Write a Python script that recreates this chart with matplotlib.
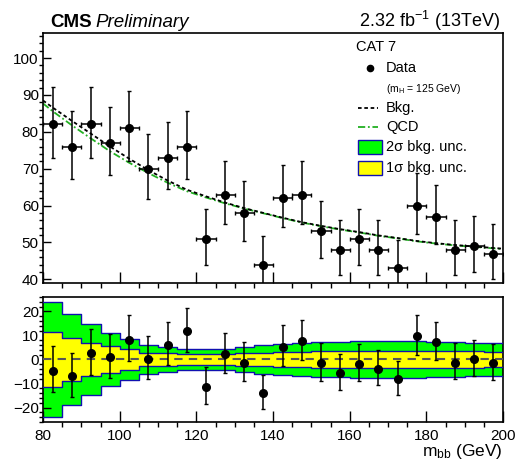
import numpy as np
import matplotlib
matplotlib.use("Agg")
import matplotlib.pyplot as plt
from matplotlib.patches import Rectangle
from matplotlib.lines import Line2D
from matplotlib.ticker import MultipleLocator

plt.rcParams['font.family'] = 'Liberation Sans'
plt.rcParams['mathtext.fontset'] = 'custom'
plt.rcParams['mathtext.rm'] = 'Liberation Sans'
plt.rcParams['mathtext.it'] = 'Liberation Sans:italic'
plt.rcParams['mathtext.bf'] = 'Liberation Sans:bold'

# m_bb bins (5 GeV wide) and observed events
bin_edges = [80, 85, 90, 95, 100, 105, 110, 115, 120, 125, 130, 135, 140,
             145, 150, 155, 160, 165, 170, 175, 180, 185, 190, 195, 200]
data = [82, 76, 82, 77, 81, 70, 73, 76, 51, 63, 58, 44,
        62, 63, 53, 48, 51, 48, 43, 60, 57, 48, 49, 47]

# fitted background and QCD shape, sampled along m_bb
curve_mass = [80, 82.5, 87.5, 92.5, 97.5, 102.5, 107.5, 112.5, 117.5, 122.5,
              127.5, 132.5, 137.5, 142.5, 147.5, 152.5, 157.5, 162.5, 167.5,
              172.5, 177.5, 182.5, 187.5, 192.5, 197.5, 200]
bkg = [88.5, 86.6, 83.0, 79.5, 76.0, 72.7, 69.6, 66.8, 64.3, 62.5, 60.8,
       59.3, 58.0, 56.7, 55.5, 54.5, 53.6, 52.8, 51.9, 51.2, 50.4, 49.8,
       49.3, 48.9, 48.5, 48.3]
qcd = [87.7, 85.6, 81.8, 78.2, 74.7, 71.6, 68.8, 66.2, 63.9, 62.2, 60.6,
       59.2, 57.9, 56.6, 55.4, 54.4, 53.5, 52.7, 51.8, 51.1, 50.3, 49.7,
       49.2, 48.8, 48.4, 48.2]

# background uncertainty half-widths per bin
unc_2sigma = [23.8, 18.9, 14.6, 11.2, 8.7, 6.0, 5.2, 4.5, 4.2, 4.5, 5.2, 5.9,
              6.3, 6.8, 7.2, 7.4, 7.5, 7.6, 7.6, 7.5, 7.4, 7.2, 7.0, 6.9]
unc_1sigma = [11.6, 9.1, 7.0, 5.5, 4.2, 2.9, 2.5, 2.2, 2.1, 2.2, 2.5, 2.9,
              3.1, 3.3, 3.5, 3.6, 3.7, 3.7, 3.7, 3.7, 3.6, 3.5, 3.4, 3.3]

edges = np.array(bin_edges, dtype=float)
centers = 0.5 * (edges[:-1] + edges[1:])
n = np.array(data, dtype=float)

# Poisson (Wilson-Hilferty) 68% intervals on the counts
err_lo = n - n * (1 - 1 / (9 * n) - 1 / (3 * np.sqrt(n))) ** 3
err_hi = (n + 1) * (1 - 1 / (9 * (n + 1)) + 1 / (3 * np.sqrt(n + 1))) ** 3 - n

bkg_at_centers = np.interp(centers, curve_mass, bkg)
resid = n - bkg_at_centers

W, H = 518, 461
fig = plt.figure(figsize=(W / 100, H / 100), dpi=100)
ax1 = fig.add_axes([43 / W, 1 - 283 / H, 460 / W, 250 / H])
ax2 = fig.add_axes([43 / W, 1 - 422 / H, 460 / W, 125 / H])

# top panel: data and fit
ax1.plot(curve_mass, bkg, color='k', ls=(0, (2, 1.5)), lw=1.3, zorder=3)
ax1.plot(curve_mass, qcd, color='#22b022', ls=(0, (4, 1.5, 1, 1.5)), lw=1.3, zorder=2)
ax1.errorbar(centers, n, xerr=2.5, yerr=[err_lo, err_hi], fmt='o', color='k',
             ms=5.5, elinewidth=1.1, capsize=1.5, capthick=1.0, zorder=4)
ax1.set_xlim(80, 200)
ax1.set_ylim(39, 106.8)
ax1.yaxis.set_major_locator(MultipleLocator(10))
ax1.yaxis.set_minor_locator(MultipleLocator(2))
ax1.tick_params(labelbottom=False)

# bottom panel: residuals with uncertainty bands
s2 = np.append(unc_2sigma, unc_2sigma[-1])
s1 = np.append(unc_1sigma, unc_1sigma[-1])
ax2.fill_between(edges, -s2, s2, step='post', color='#00ff00', lw=0, zorder=1)
ax2.fill_between(edges, -s1, s1, step='post', color='#ffff00', lw=0, zorder=2)
for s in (s2, -s2, s1, -s1):
    ax2.step(edges, s, where='post', color='#1010b0', lw=1.0, zorder=3)
ax2.axhline(0, color='#555555', ls=(0, (4, 3)), lw=1.5, zorder=4)
ax2.errorbar(centers, resid, yerr=[err_lo, err_hi], fmt='o', color='k',
             ms=5.5, elinewidth=1.1, capsize=1.5, capthick=1.0, zorder=5)
ax2.set_xlim(80, 200)
ax2.set_ylim(-26, 26)
ax2.yaxis.set_major_locator(MultipleLocator(10))
ax2.yaxis.set_minor_locator(MultipleLocator(2))

for ax in (ax1, ax2):
    ax.xaxis.set_major_locator(MultipleLocator(20))
    ax.xaxis.set_minor_locator(MultipleLocator(5))
    ax.tick_params(direction='in', top=False, right=False, labelsize=11, pad=3)
    ax.tick_params(axis='x', which='major', length=8, width=1.0, pad=5)
    ax.tick_params(axis='x', which='minor', length=3.6, width=1.0)
    ax.tick_params(axis='y', which='major', length=5.8, width=1.0)
    ax.tick_params(axis='y', which='minor', length=2.9, width=1.0)
    for sp in ax.spines.values():
        sp.set_linewidth(1.2)

fig.text(503 / W, 1 - 456 / H, r'm$_{\rm bb}$ (GeV)', ha='right', va='baseline',
         fontsize=12.5)

# header
fig.text(50 / W, 1 - 27 / H, 'CMS', fontsize=13.5, fontweight='bold', va='baseline')
fig.text(95 / W, 1 - 27 / H, 'Preliminary', fontsize=13.5, style='italic', va='baseline')
fig.text(500 / W, 1 - 27 / H, r'2.32 fb$^{-1}$ (13TeV)', fontsize=13, ha='right',
         va='baseline')

# legend
def fy(y):
    return 1 - y / H

fig.text(356 / W, fy(51), 'CAT 7', fontsize=10.5, va='baseline')
fig.add_artist(Line2D([370 / W], [fy(68)], marker='o', ms=4.5, color='k'))
fig.text(386 / W, fy(68), 'Data', fontsize=10.5, va='center')
fig.text(386 / W, fy(89), r'(m$_{\rm H}$ = 125 GeV)', fontsize=7.5, va='center')
fig.add_artist(Line2D([358 / W, 378 / W], [fy(108), fy(108)], color='k',
                      ls=(0, (2, 1.5)), lw=1.3))
fig.text(386 / W, fy(108), 'Bkg.', fontsize=10.5, va='center')
fig.add_artist(Line2D([358 / W, 378 / W], [fy(127), fy(127)], color='#22b022',
                      ls=(0, (4, 1.5, 1, 1.5)), lw=1.3))
fig.text(386 / W, fy(127), 'QCD', fontsize=10.5, va='center')
fig.add_artist(Rectangle((358 / W, fy(154)), 24 / W, 14 / H, facecolor='#00ff00',
                         edgecolor='#1010b0', lw=1.0))
fig.text(386 / W, fy(147), '2σ bkg. unc.', fontsize=10.5, va='center')
fig.add_artist(Rectangle((358 / W, fy(175)), 24 / W, 14 / H, facecolor='#ffff00',
                         edgecolor='#1010b0', lw=1.0))
fig.text(386 / W, fy(168), '1σ bkg. unc.', fontsize=10.5, va='center')

fig.savefig('out.png', dpi=100)
